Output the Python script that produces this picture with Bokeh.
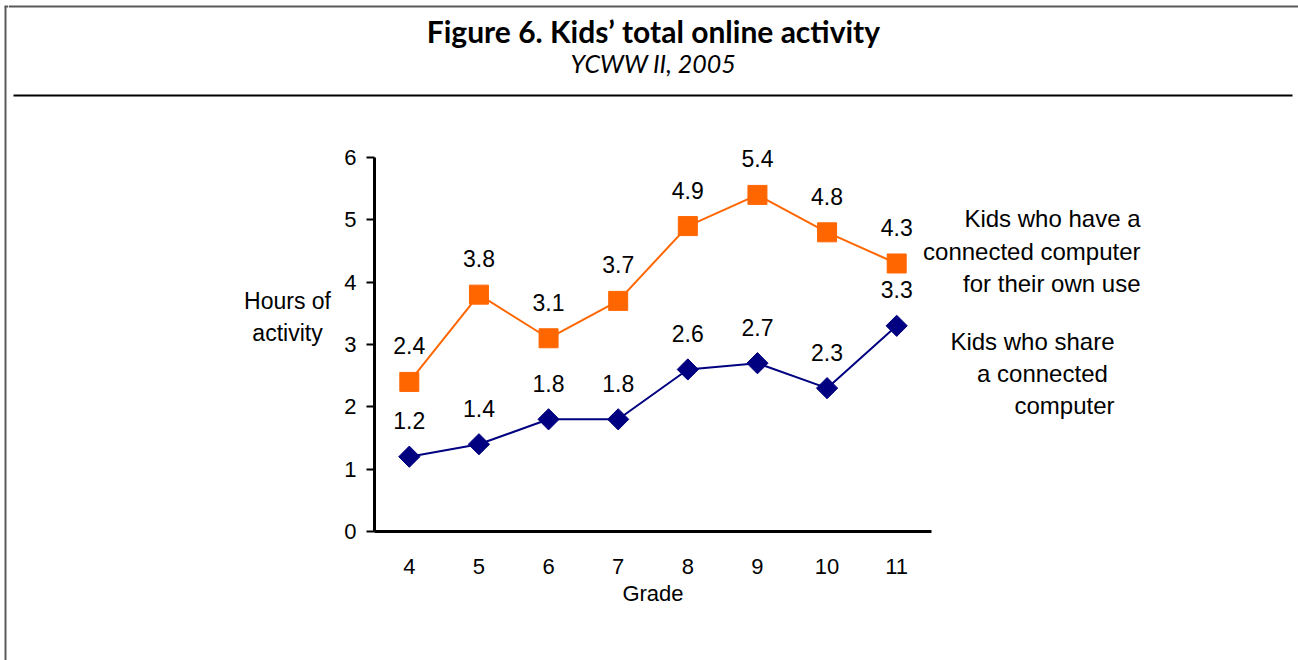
from bokeh.plotting import figure
from bokeh.models import Range1d, FixedTicker, ColumnDataSource, Label, LinearAxis
from bokeh.layouts import column, row
from bokeh.core.properties import value
from bokeh.embed import file_html
from bokeh.resources import INLINE

# ---- data ----
grades = [4, 5, 6, 7, 8, 9, 10, 11]
own_computer = [2.4, 3.8, 3.1, 3.7, 4.9, 5.4, 4.8, 4.3]
shared_computer = [1.2, 1.4, 1.8, 1.8, 2.6, 2.7, 2.3, 3.3]
y_ticks = [0, 1, 2, 3, 4, 5, 6]
title_text = "Figure 6. Kids\u2019 total online activity"
subtitle_text = "YCWW II, 2005"
own_label_lines = ["Kids who have a", "connected computer", "for their own use"]
shared_label_lines = ["Kids who share", "a  connected", "computer"]
y_label_lines = ["Hours of", "activity"]
x_label = "Grade"

ORANGE = "#FF6600"
NAVY = "#000080"
FONT = "Liberation Sans"
BORDER = "#5a5a5a"

W, H = 1298, 660
STRIP_W = 8
HEADER_H = 100
LEFT_X = 336          # right edge of left strip
FRAME_L, FRAME_B = 374, 531
PX_X = 69.625         # pixels per grade
PX_Y = 62.33          # pixels per hour


def blank(w, h, xr, yr, **kw):
    f = figure(width=w, height=h, x_range=Range1d(*xr), y_range=Range1d(*yr),
               x_axis_type=None, y_axis_type=None, output_backend="svg",
               toolbar_location=None, min_border=0, title=None, **kw)
    f.outline_line_color = None
    f.background_fill_color = "white"
    f.border_fill_color = "white"
    return f


# ---- outer left border strip (page pixel coords) ----
strip = blank(STRIP_W, H, (0, STRIP_W), (H, 0))
strip.segment(x0=[5], y0=[6], x1=[5], y1=[H], line_color=BORDER, line_width=2)
strip.segment(x0=[4], y0=[6], x1=[STRIP_W], y1=[6], line_color=BORDER, line_width=2)

# ---- header ----
hdr = blank(W - STRIP_W, HEADER_H, (STRIP_W, W), (HEADER_H, 0))
hdr.segment(x0=[STRIP_W], y0=[6], x1=[W], y1=[6], line_color=BORDER, line_width=2)
hdr.segment(x0=[13], y0=[95], x1=[1292], y1=[95], line_color="black", line_width=2)
hdr.text(x=[653], y=[30], text=[title_text], text_font=value("Lato"), text_font_style="bold",
         text_font_size="30px", text_align="center", text_baseline="middle", text_color="black")
hdr.text(x=[653], y=[62], text=[subtitle_text], text_font=value("Lato"), text_font_style="italic",
         text_font_size="25px", text_align="center", text_baseline="middle", text_color="black")

BODY_H = H - HEADER_H
BOTTOM = H - FRAME_B

# ---- left strip (frame aligned with chart frame) ----
lft = blank(LEFT_X - STRIP_W, BODY_H, (STRIP_W, LEFT_X), (FRAME_B, HEADER_H),
            min_border_bottom=BOTTOM)
lft.text(x=[287, 287], y=[300, 332], text=y_label_lines, text_font=value(FONT),
         text_font_size="23px", text_align="center", text_baseline="middle", text_color="black")

# ---- chart ----
frame_w = W - FRAME_L
p = figure(width=W - LEFT_X, height=BODY_H, output_backend="svg", toolbar_location=None,
           title=None, x_range=Range1d(3.5, 3.5 + frame_w / PX_X),
           y_range=Range1d(0, (FRAME_B - HEADER_H) / PX_Y),
           min_border_left=FRAME_L - LEFT_X, min_border_right=0, min_border_top=0,
           min_border_bottom=BOTTOM)
p.outline_line_color = None
p.xgrid.visible = False
p.ygrid.visible = False
p.background_fill_color = "white"
p.border_fill_color = "white"

xa = p.xaxis[0]
xa.ticker = FixedTicker(ticks=grades)
xa.bounds = (3.5, 11.5)
xa.axis_line_width = 3
xa.axis_line_color = "black"
xa.major_tick_out = 0
xa.major_tick_in = 0
xa.minor_tick_out = 0
xa.minor_tick_in = 0
xa.major_label_text_font = FONT
xa.major_label_text_font_size = "22px"
xa.major_label_text_color = "black"
xa.major_label_standoff = 27

# axis title, centred under the grade span
grade_title_pos = (grades[0] + grades[-1]) / 2
xt = LinearAxis(ticker=FixedTicker(ticks=[grade_title_pos]),
                major_label_overrides={grade_title_pos: x_label})
xt.axis_line_color = None
xt.major_tick_out = 0
xt.major_tick_in = 0
xt.minor_tick_out = 0
xt.minor_tick_in = 0
xt.major_label_text_font = FONT
xt.major_label_text_font_size = "22px"
xt.major_label_text_color = "black"
xt.major_label_standoff = 4
p.add_layout(xt, "below")

ya = p.yaxis[0]
ya.ticker = FixedTicker(ticks=y_ticks)
ya.bounds = (0, 6)
ya.axis_line_width = 3
ya.axis_line_color = "black"
ya.major_tick_out = 8
ya.major_tick_in = 0
ya.major_tick_line_width = 2
ya.minor_tick_out = 0
ya.minor_tick_in = 0
ya.major_label_text_font = FONT
ya.major_label_text_font_size = "22px"
ya.major_label_text_color = "black"
ya.major_label_standoff = 10

src_own = ColumnDataSource(dict(x=grades, y=own_computer, t=["%.1f" % v for v in own_computer]))
src_sh = ColumnDataSource(dict(x=grades, y=shared_computer, t=["%.1f" % v for v in shared_computer]))

p.line("x", "y", source=src_own, line_color=ORANGE, line_width=2)
p.scatter("x", "y", source=src_own, marker="square", size=19, fill_color=ORANGE, line_color=ORANGE)
p.line("x", "y", source=src_sh, line_color=NAVY, line_width=2)
p.scatter("x", "y", source=src_sh, marker="square", size=15, angle=0.785398,
          fill_color=NAVY, line_color=NAVY)

for src in (src_own, src_sh):
    p.text("x", "y", text="t", source=src, text_font=value(FONT), text_font_size="23px",
           text_align="center", text_baseline="middle", y_offset=-36, text_color="black")


def series_label(txt, X, Y):
    p.add_layout(Label(x=X - FRAME_L, y=FRAME_B - Y, x_units="screen", y_units="screen", text=txt,
                       text_align="right", text_baseline="middle", text_font=FONT,
                       text_font_size="24px", text_color="black"))


for i, t in enumerate(own_label_lines):
    series_label(t, 1140, 218 + 32.5 * i)
for i, t in enumerate(shared_label_lines):
    series_label(t, 1114, 341 + 32 * i)

layout = row(strip, column(hdr, row(lft, p)))
open("out.html", "w").write(file_html(layout, INLINE))
